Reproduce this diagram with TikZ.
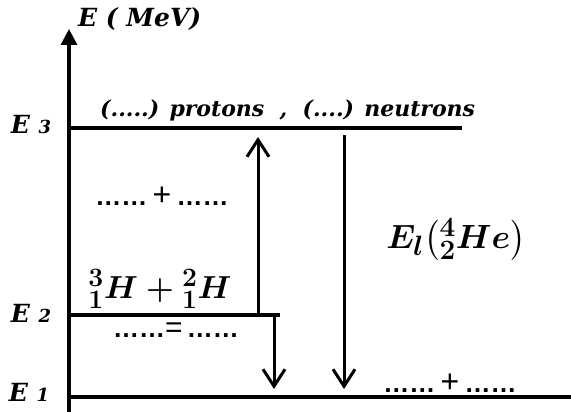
\documentclass[tikz,border=0pt]{standalone}
\usepackage{fontspec}
\usepackage{amsmath}
\usepackage{graphicx}
\setmainfont{DejaVu Serif}
\setsansfont{Liberation Sans}
\usetikzlibrary{arrows.meta}
\tikzset{
  level/.style={line width=3.4pt},
  jump/.style={line width=3pt,-{Straight Barb[length=17pt,width=22pt]}},
  axlbl/.style={font=\fontsize{22}{22}\selectfont\bfseries\itshape,inner sep=0pt},
  elbl/.style={font=\fontsize{25}{25}\selectfont\bfseries\itshape,inner sep=0pt},
  dotlbl/.style={font=\fontsize{26}{26}\selectfont\sffamily\bfseries,inner sep=0pt},
  mathlbl/.style={font=\fontsize{24.88}{25}\selectfont\boldmath,inner sep=0pt}
}
\begin{document}
\begin{tikzpicture}[x=1pt,y=-1pt]
\useasboundingbox (0,0) rectangle (571,412);
% axis
\coordinate (o) at (69,412);
\coordinate (top) at (69,29);
\draw[line width=3.4pt,-{Triangle[length=16pt,width=16pt]}] (o) -- (top);
% levels
\draw[level] (69,128) -- (462,128);
\draw[level] (69,315) -- (280,315);
\draw[level] (69,397) -- (571,397);
% arrows
\coordinate (up1) at (258,315);
\coordinate (up2) at (258,137);
\coordinate (dn1) at (274,315);
\coordinate (dn2) at (274,389);
\coordinate (lg1) at (344,135);
\coordinate (lg2) at (344,389);
\draw[jump] (up1) -- (up2);
\draw[jump] (dn1) -- (dn2);
\draw[jump] (lg1) -- (lg2);
% labels
\node[elbl,anchor=west] (unit) at (78,19) {E ( MeV)};
\node[elbl] (e3) at (31,125) {E {\fontsize{18}{18}\selectfont 3}};
\node[elbl] (e2) at (31,313) {E {\fontsize{18}{18}\selectfont 2}};
\node[elbl] (e1) at (29,392) {E {\fontsize{18}{18}\selectfont 1}};
\node[axlbl,anchor=west] (nucl) at (100,110) {(.....) protons\ \ ,\ \ (....) neutrons};
\node[dotlbl] (sum3) at (162,196) {……{\fontsize{32}{32}\selectfont\mdseries\,+\,}……};
\node[mathlbl] (bind) at (456,239) {\scalebox{1.35}{$E_l\!\left(^4_2He\right)$}};
\node[mathlbl] (react) at (160,289) {\scalebox{1.28}{$^3_1H+{}^2_1H$}};
\node[dotlbl] (eq2) at (176,330) {……{\fontsize{30}{30}\selectfont\mdseries=}\,……};
\node[dotlbl] (sum1) at (450,383) {……{\fontsize{32}{32}\selectfont\mdseries\,+\,}……};
\end{tikzpicture}
\end{document}
